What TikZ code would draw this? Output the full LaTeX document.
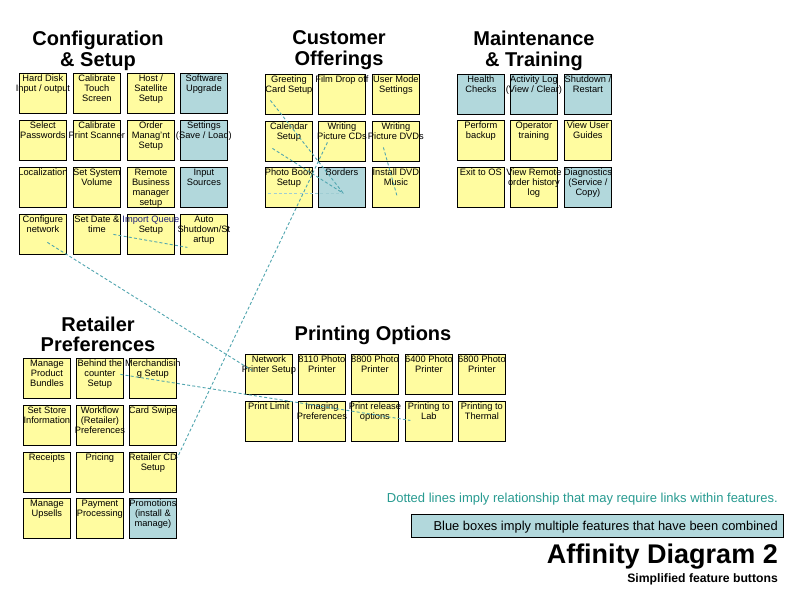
\documentclass[tikz,border=0pt]{standalone}
\usepackage{fontspec}
\setmainfont{Liberation Sans}
\usetikzlibrary{calc}

\definecolor{stickyyellow}{RGB}{255,252,160}
\definecolor{stickyblue}{RGB}{178,216,220}
\definecolor{linkteal}{RGB}{80,165,175}
\definecolor{noteteal}{RGB}{40,155,145}
\definecolor{navytext}{RGB}{30,30,120}

\tikzset{
  box/.style={draw=black, line width=0.8pt, fill=stickyyellow,
    minimum width=47pt, minimum height=40pt, inner sep=0pt, anchor=north west},
  bluebox/.style={box, fill=stickyblue},
  lbl/.style={anchor=north, align=center, inner sep=0pt,
    font=\fontsize{9.3}{10}\selectfont},
  grouptitle/.style={anchor=base, inner sep=0pt,
    font=\fontsize{20}{22}\selectfont\bfseries},
  link/.style={draw=linkteal, line width=0.9pt, dash pattern=on 3pt off 2.2pt},
  faintlink/.style={link, draw=linkteal!55},
}

% \sticky[style]{name}{x}{y}{text}: a sticky note with its caption at the top
\newcommand{\sticky}[5][box]{%
  \node[#1] (#2) at (#3,#4) {};
  \node[lbl] (#2-t) at ([yshift=-1.5pt]#2.north) {#5};}

\begin{document}
\begin{tikzpicture}[x=1pt, y=-1pt]
\fill[white] (0,0) rectangle (800,600);
\useasboundingbox (0,0) rectangle (800,600);

% ---------------- Configuration & Setup ----------------
\node[grouptitle] (t-cfg1) at (98,45) {Configuration};
\node[grouptitle] (t-cfg2) at (98,66) {\& Setup};
\sticky{cfg11}{19}{73}{Hard Disk\\Input / output}
\sticky{cfg12}{73}{73}{Calibrate\\Touch\\Screen}
\sticky{cfg13}{127}{73}{Host /\\Satellite\\Setup}
\sticky[bluebox]{cfg14}{180}{73}{Software\\Upgrade}
\sticky{cfg21}{19}{120}{Select\\Passwords}
\sticky{cfg22}{73}{120}{Calibrate\\Print Scanner}
\sticky{cfg23}{127}{120}{Order\\Manag'nt\\Setup}
\sticky[bluebox]{cfg24}{180}{120}{Settings\\(Save / Load)}
\sticky{cfg31}{19}{167}{Localization}
\sticky{cfg32}{73}{167}{Set System\\Volume}
\sticky{cfg33}{127}{167}{Remote\\Business\\manager\\setup}
\sticky[bluebox]{cfg34}{180}{167}{Input\\Sources}
\sticky{cfg41}{19}{214}{Configure\\network}
\sticky{cfg42}{73}{214}{Set Date \&\\time}
\sticky{cfg43}{127}{214}{{\color{navytext}Import Queue}\\Setup}
\sticky{cfg44}{180}{214}{Auto\\Shutdown/St\\artup}

% ---------------- Customer Offerings ----------------
\node[grouptitle] (t-co1) at (339,44) {Customer};
\node[grouptitle] (t-co2) at (339,65) {Offerings};
\sticky{co11}{265}{74}{Greeting\\Card Setup}
\sticky{co12}{318}{74}{Film Drop off}
\sticky{co13}{372}{74}{User Mode\\Settings}
\sticky{co21}{265}{121}{Calendar\\Setup}
\sticky{co22}{318}{121}{Writing\\Picture CDs}
\sticky{co23}{372}{121}{Writing\\Picture DVDs}
\sticky{co31}{265}{167}{Photo Book\\Setup}
\sticky[bluebox]{co32}{318}{167}{Borders}
\sticky{co33}{372}{167}{Install DVD\\Music}

% ---------------- Maintenance & Training ----------------
\node[grouptitle] (t-mt1) at (534,45) {Maintenance};
\node[grouptitle] (t-mt2) at (534,66) {\& Training};
\sticky[bluebox]{mt11}{457}{74}{Health\\Checks}
\sticky[bluebox]{mt12}{510}{74}{Activity Log\\(View / Clear)}
\sticky[bluebox]{mt13}{564}{74}{Shutdown /\\Restart}
\sticky{mt21}{457}{120}{Perform\\backup}
\sticky{mt22}{510}{120}{Operator\\training}
\sticky{mt23}{564}{120}{View User\\Guides}
\sticky{mt31}{457}{167}{Exit to OS}
\sticky{mt32}{510}{167}{View Remote\\order history\\log}
\sticky[bluebox]{mt33}{564}{167}{Diagnostics\\(Service /\\Copy)}

% ---------------- Retailer Preferences ----------------
\node[grouptitle] (t-rp1) at (98,331) {Retailer};
\node[grouptitle] (t-rp2) at (98,351) {Preferences};
\sticky{rp11}{23}{358}{Manage\\Product\\Bundles}
\sticky{rp12}{76}{358}{Behind the\\counter\\Setup}
\sticky{rp13}{129}{358}{Merchandisin\\g Setup}
\sticky{rp21}{23}{405}{Set Store\\Information}
\sticky{rp22}{76}{405}{Workflow\\(Retailer)\\Preferences}
\sticky{rp23}{129}{405}{Card Swipe}
\sticky{rp31}{23}{452}{Receipts}
\sticky{rp32}{76}{452}{Pricing}
\sticky{rp33}{129}{452}{Retailer CD\\Setup}
\sticky{rp41}{23}{498}{Manage\\Upsells}
\sticky{rp42}{76}{498}{Payment\\Processing}
\sticky[bluebox]{rp43}{129}{498}{Promotions\\(install \&\\manage)}

% ---------------- Printing Options ----------------
\node[grouptitle] (t-pr) at (373,340) {Printing Options};
\sticky{pr11}{245}{354}{Network\\Printer Setup}
\sticky{pr12}{298}{354}{8110 Photo\\Printer}
\sticky{pr13}{351}{354}{8800 Photo\\Printer}
\sticky{pr14}{405}{354}{6400 Photo\\Printer}
\sticky{pr15}{458}{354}{6800 Photo\\Printer}
\sticky{pr21}{245}{401}{Print Limit}
\sticky{pr22}{298}{401}{Imaging\\Preferences}
\sticky{pr23}{351}{401}{Print release\\options}
\sticky{pr24}{405}{401}{Printing to\\Lab}
\sticky{pr25}{458}{401}{Printing to\\Thermal}

% ---------------- related features (dashed links) ----------------
\draw[link] ($(cfg41.center)+(4.5,8)$) -- ($(pr11.center)+(-17,-4)$);
\draw[link] ($(cfg42.center)+(16.5,0)$) -- ($(cfg44.center)+(-16.5,13)$);
\draw[link] ($(co22.center)+(-14.5,1)$) -- ($(rp33.center)+(24.5,-15)$);
\draw[link] ($(co11.center)+(-18.5,6)$) -- ($(co32.center)+(1.5,6)$);
\draw[link] ($(co21.center)+(-16.5,7)$) -- ($(co32.center)+(1.5,6)$);
\draw[faintlink] ($(co31.center)+(-20.5,6)$) -- ($(co32.center)+(1.5,6)$);
\draw[link] ($(co23.center)+(-12.5,6)$) -- ($(co33.center)+(1.5,10)$);
\draw[link] ($(rp12.center)+(20.5,-4)$) -- ($(pr24.center)+(-18.5,-1)$);

% ---------------- legend and heading ----------------
\node[anchor=base east, inner sep=0pt, text=noteteal,
      font=\fontsize{13}{15}\selectfont] (note) at (778,502)
  {Dotted lines imply relationship that may require links within features.};
\node[draw=black, line width=0.8pt, fill=stickyblue, anchor=north west,
      minimum width=372pt, minimum height=23pt, inner sep=0pt] (legend) at (411,514) {};
\node[anchor=base east, inner sep=0pt, font=\fontsize{12.9}{15}\selectfont]
  (legend-t) at (778,530) {Blue boxes imply multiple features that have been combined};
\node[anchor=base east, inner sep=0pt, font=\fontsize{27}{30}\selectfont\bfseries]
  (heading) at (778,563) {Affinity Diagram 2};
\node[anchor=base east, inner sep=0pt, font=\fontsize{12.2}{14}\selectfont\bfseries]
  (subheading) at (778,582) {Simplified feature buttons};
\end{tikzpicture}
\end{document}
